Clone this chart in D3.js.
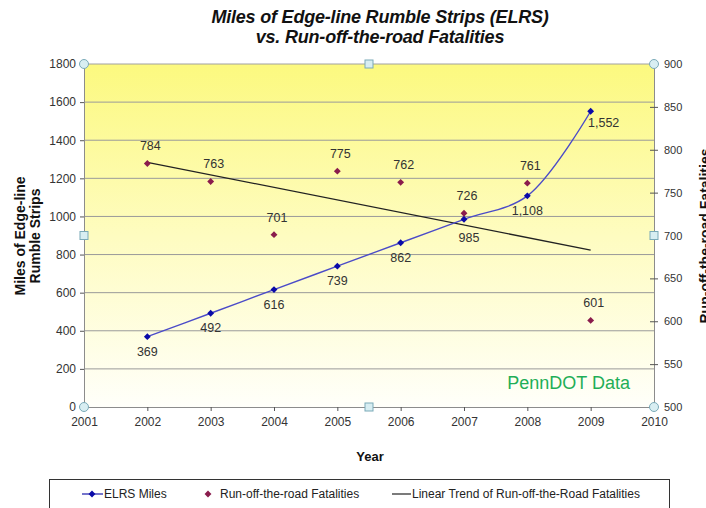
<!DOCTYPE html>
<html><head><meta charset="utf-8">
<script src="https://cdn.jsdelivr.net/npm/d3@7"></script>
<style>
html,body{margin:0;padding:0;background:#fff;}
svg{display:block;font-family:"Liberation Sans",Arial,sans-serif;}
</style></head>
<body><svg id="c" width="706" height="508"></svg>
<script>
const years = [2002, 2003, 2004, 2005, 2006, 2007, 2008, 2009];
const elrsMiles = [369, 492, 616, 739, 862, 985, 1108, 1552];
const fatalities = [784, 763, 701, 775, 762, 726, 761, 601];
const leftTicks = [0, 200, 400, 600, 800, 1000, 1200, 1400, 1600, 1800];
const rightTicks = [500, 550, 600, 650, 700, 750, 800, 850, 900];
const xTicks = [2001, 2002, 2003, 2004, 2005, 2006, 2007, 2008, 2009, 2010];
const titleLines = ["Miles of Edge-line Rumble Strips (ELRS)", "vs. Run-off-the-road Fatalities"];
const legendLabels = ["ELRS Miles", "Run-off-the-road Fatalities", "Linear Trend of Run-off-the-Road Fatalities"];

const svg = d3.select("#c");
const L = 84, R = 654, T = 64, B = 407;
const x = d3.scaleLinear().domain([2001, 2010]).range([L, R]);
const yL = d3.scaleLinear().domain([0, 1800]).range([B, T]);
const yR = d3.scaleLinear().domain([500, 900]).range([B, T]);

// gradient background
const defs = svg.append("defs");
const g = defs.append("linearGradient").attr("id", "bg").attr("x1", 0).attr("y1", 0).attr("x2", 0).attr("y2", 1);
g.append("stop").attr("offset", "0%").attr("stop-color", "#fcf97f");
g.append("stop").attr("offset", "50%").attr("stop-color", "#fefcc0");
g.append("stop").attr("offset", "100%").attr("stop-color", "#fffffa");
svg.append("rect").attr("x", L).attr("y", T).attr("width", R - L).attr("height", B - T).attr("fill", "url(#bg)");

// gridlines
svg.append("g").selectAll("line").data(leftTicks.filter(d => d > 0 && d < 1800)).join("line")
  .attr("x1", L).attr("x2", R).attr("y1", d => yL(d)).attr("y2", d => yL(d))
  .attr("stroke", "#9a9a9a").attr("stroke-width", 1);

// axes
const axL = svg.append("g").attr("transform", `translate(${L},0)`)
  .call(d3.axisLeft(yL).tickValues(leftTicks).tickSize(4).tickPadding(4).tickFormat(d3.format("d")));
const axR = svg.append("g").attr("transform", `translate(${R},0)`)
  .call(d3.axisRight(yR).tickValues(rightTicks).tickSize(4).tickPadding(6).tickFormat(d3.format("d")));
axR.selectAll(".tick line").attr("x1", -4);
const axB = svg.append("g").attr("transform", `translate(0,${B})`)
  .call(d3.axisBottom(x).tickValues(xTicks).tickSize(4).tickPadding(6).tickFormat(d3.format("d")));
axB.selectAll(".tick line").attr("y1", 0);
[axL, axR, axB].forEach(a => {
  a.select(".domain").attr("stroke", "#8c8c8c");
  a.selectAll(".tick line").attr("stroke", "#555");
  a.selectAll("text").attr("font-size", 12).attr("fill", "#333").attr("font-family", "Liberation Sans, Arial, sans-serif");
});
axR.selectAll("text").attr("font-size", 11);
svg.append("line").attr("x1", L).attr("x2", R).attr("y1", T).attr("y2", T).attr("stroke", "#a0a0a0");

// trend line (least squares on fatalities)
const n = years.length;
const mx = d3.mean(years), my = d3.mean(fatalities);
const slope = d3.sum(years, (v, i) => (v - mx) * (fatalities[i] - my)) / d3.sum(years, v => (v - mx) ** 2);
const icpt = my - slope * mx;
svg.append("line")
  .attr("x1", x(years[0])).attr("y1", yR(icpt + slope * years[0]))
  .attr("x2", x(years[n - 1])).attr("y2", yR(icpt + slope * years[n - 1]))
  .attr("stroke", "#222").attr("stroke-width", 1.3);

// ELRS smoothed line
const line = d3.line().x((d, i) => x(years[i])).y(d => yL(d)).curve(d3.curveCatmullRom.alpha(0.5));
svg.append("path").datum(elrsMiles).attr("d", line).attr("fill", "none").attr("stroke", "#4b4bc8").attr("stroke-width", 1.4);

const diamond = d3.symbol().type(d3.symbolDiamond2).size(30);
svg.append("g").selectAll("path").data(elrsMiles).join("path")
  .attr("d", diamond).attr("transform", (d, i) => `translate(${x(years[i])},${yL(d)})`).attr("fill", "#0a0aa8");
svg.append("g").selectAll("path").data(fatalities).join("path")
  .attr("d", diamond).attr("transform", (d, i) => `translate(${x(years[i])},${yR(d)})`).attr("fill", "#8a1c4c");

// labels
const fmt = d3.format(",");
svg.append("g").selectAll("text").data(elrsMiles).join("text")
  .attr("x", (d, i) => x(years[i]) + (i === n - 1 ? 13 : (i === 5 ? 5 : 0)))
  .attr("y", (d, i) => yL(d) + (i === 5 ? 23 : (i === n - 1 ? 16 : 19)))
  .attr("text-anchor", "middle").attr("font-size", 12.5).attr("fill", "#333").text(d => fmt(d));
svg.append("g").selectAll("text").data(fatalities).join("text")
  .attr("x", (d, i) => x(years[i]) + 3).attr("y", d => yR(d) - 13)
  .attr("text-anchor", "middle").attr("font-size", 12.5).attr("fill", "#333").text(d => d);

// PennDOT
svg.append("text").attr("x", 630).attr("y", 389).attr("text-anchor", "end").attr("font-size", 18)
  .attr("fill", "#1fae57").text("PennDOT Data");

// selection handles
const hc = [[L, T], [R, T], [L, B], [R, B]];
svg.append("g").selectAll("circle").data(hc).join("circle").attr("cx", d => d[0]).attr("cy", d => d[1]).attr("r", 4.5)
  .attr("fill", "#d8eef2").attr("stroke", "#7aaab8");
const hs = [[(L + R) / 2, T], [(L + R) / 2, B], [L, (T + B) / 2], [R, (T + B) / 2]];
svg.append("g").selectAll("rect").data(hs).join("rect").attr("x", d => d[0] - 4).attr("y", d => d[1] - 4).attr("width", 8).attr("height", 8)
  .attr("fill", "#d8eef2").attr("stroke", "#7aaab8");

// titles
svg.append("text").attr("x", 380).attr("y", 0).attr("text-anchor", "middle").attr("font-size", 18)
  .attr("font-weight", "bold").attr("font-style", "italic").attr("fill", "#111").attr("letter-spacing", -0.2)
  .selectAll("tspan").data(titleLines).join("tspan").attr("x", 380).attr("y", (d, i) => 23 + i * 20).text(d => d);
svg.append("text").attr("x", 370).attr("y", 461).attr("text-anchor", "middle").attr("font-size", 13)
  .attr("font-weight", "bold").attr("fill", "#111").text("Year");
svg.append("text").attr("transform", "translate(0,236) rotate(-90)").attr("text-anchor", "middle")
  .attr("font-size", 14).attr("font-weight", "bold").attr("fill", "#111")
  .selectAll("tspan").data(["Miles of Edge-line", "Rumble Strips"]).join("tspan")
  .attr("x", 0).attr("y", (d, i) => 25 + i * 15).text(d => d);
svg.append("text").attr("transform", "translate(710,236) rotate(-90)").attr("text-anchor", "middle")
  .attr("font-size", 14).attr("font-weight", "bold").attr("fill", "#111").text("Run-off-the-road  Fatalities");

// legend
svg.append("rect").attr("x", 49.5).attr("y", 479.5).attr("width", 620).attr("height", 40).attr("fill", "#fff").attr("stroke", "#333");
const lg = svg.append("g").attr("font-size", 12).attr("fill", "#222");
lg.append("line").attr("x1", 82).attr("x2", 103).attr("y1", 494).attr("y2", 494).attr("stroke", "#2b2bb0").attr("stroke-width", 1.3);
lg.append("path").attr("d", diamond).attr("transform", "translate(92,494)").attr("fill", "#0a0aa8");
lg.append("text").attr("x", 104).attr("y", 498).text(legendLabels[0]);
lg.append("path").attr("d", diamond).attr("transform", "translate(208,494)").attr("fill", "#8a1c4c");
lg.append("text").attr("x", 220).attr("y", 498).text(legendLabels[1]);
lg.append("line").attr("x1", 392).attr("x2", 411).attr("y1", 494).attr("y2", 494).attr("stroke", "#333").attr("stroke-width", 1.3);
lg.append("text").attr("x", 412).attr("y", 498).text(legendLabels[2]);
</script></body></html>
